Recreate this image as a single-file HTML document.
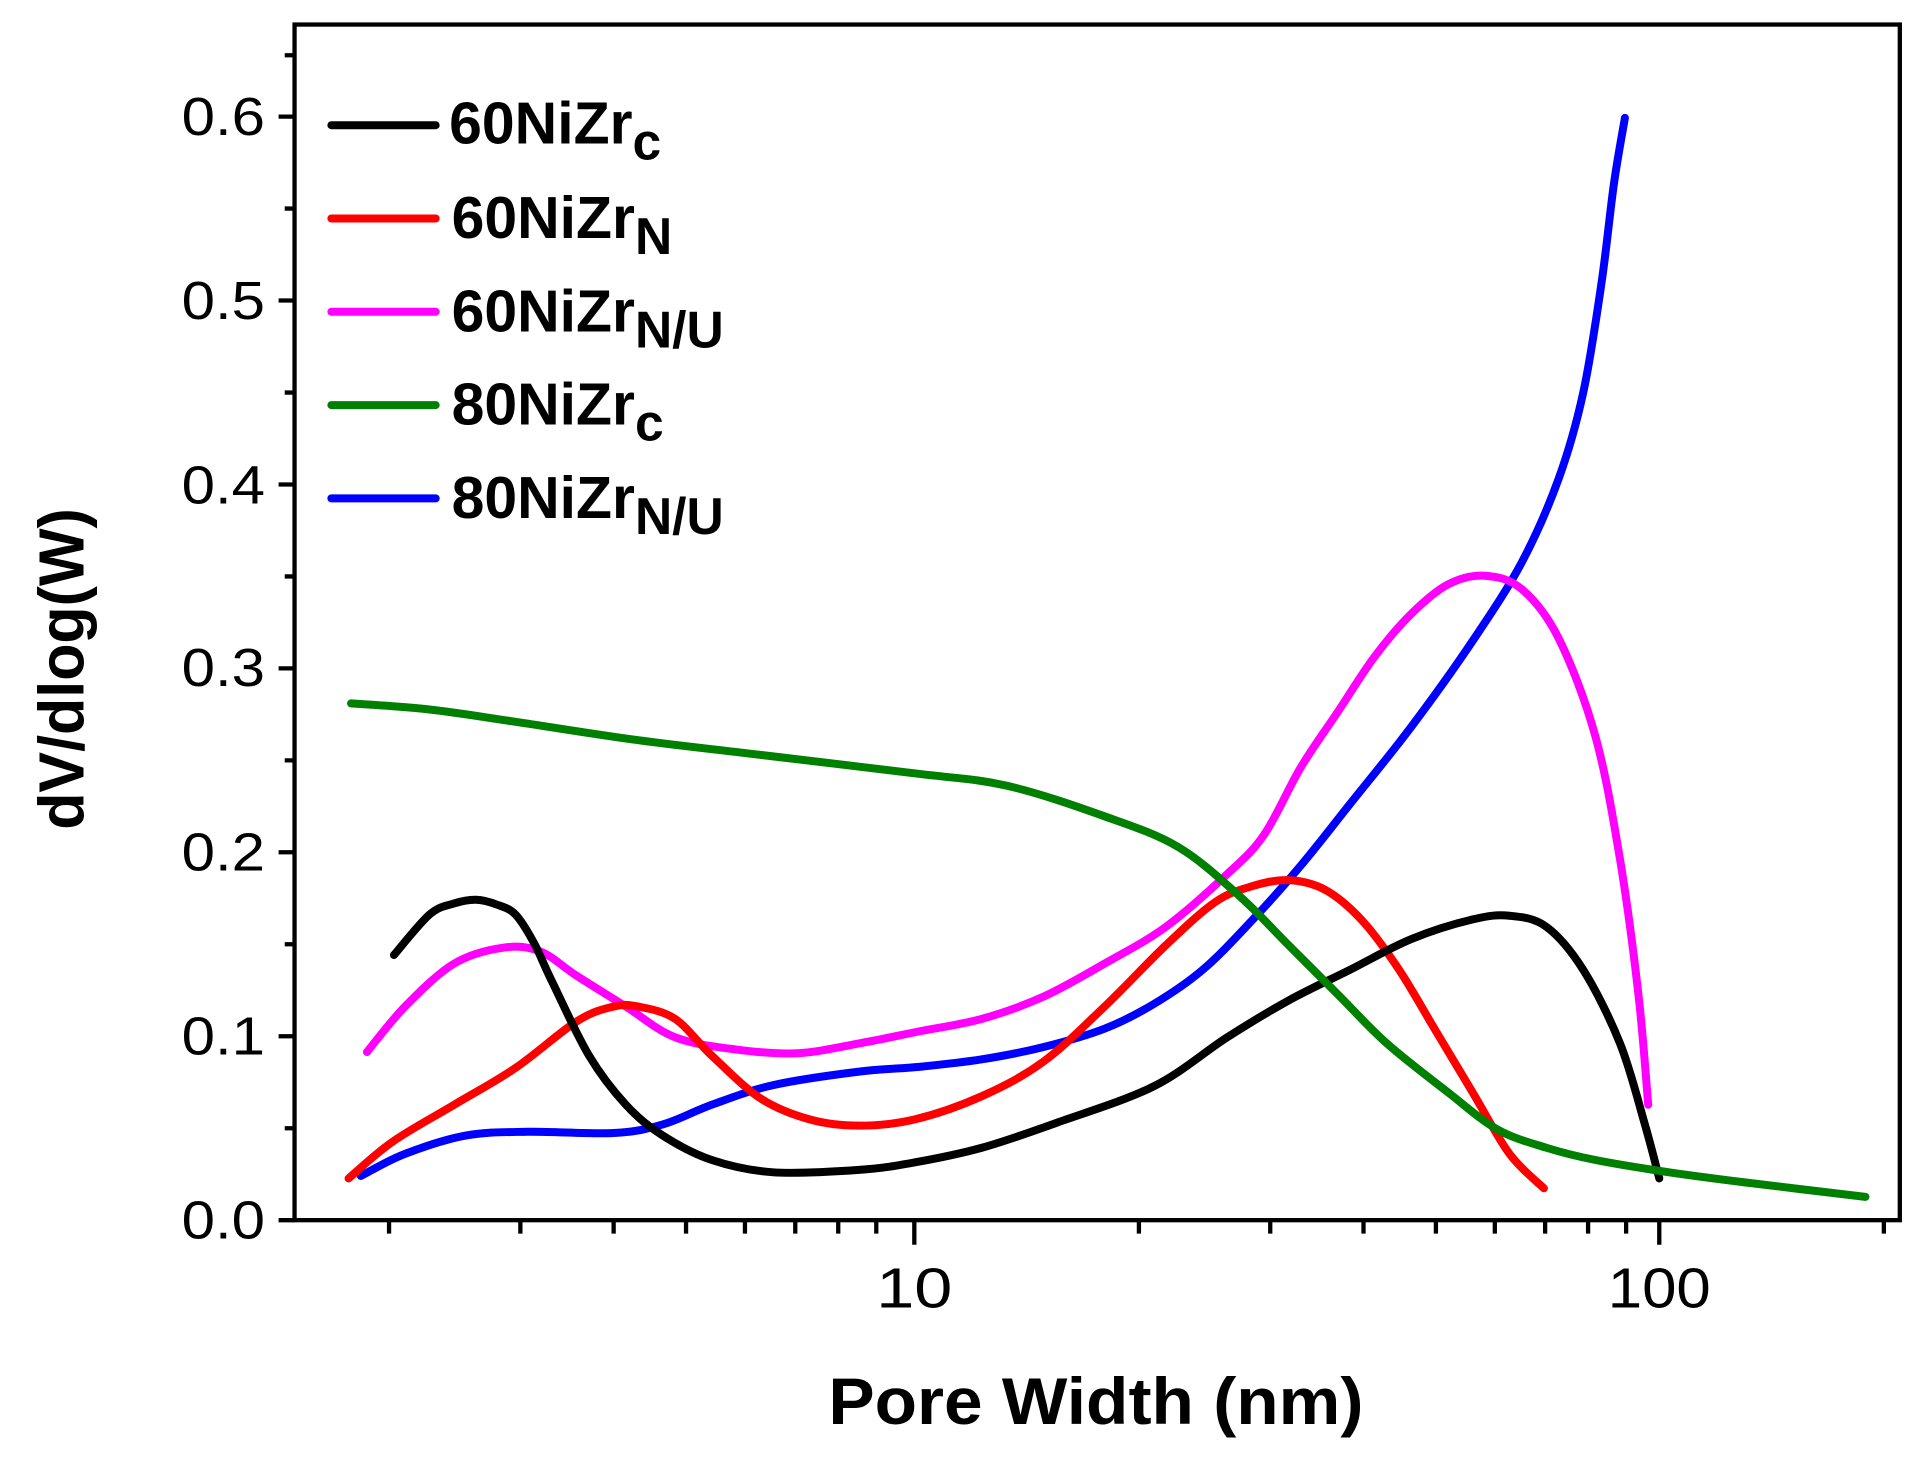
<!DOCTYPE html>
<html><head><meta charset="utf-8"><style>html,body{margin:0;padding:0;background:#fff}svg{display:block}</style></head>
<body>
<svg id="s" width="1917" height="1462" viewBox="0 0 1562 1191" preserveAspectRatio="none" xmlns="http://www.w3.org/2000/svg" font-family="Liberation Sans, Arial, sans-serif">
<rect width="1562" height="1191" fill="#fff"/>
<g stroke="#000" stroke-width="3.5" fill="none">
<rect x="240" y="20" width="1308" height="974"/>
<path d="M227 994H240M227 844.2H240M227 694.3H240M227 544.5H240M227 394.7H240M227 244.8H240M227 95H240"/>
<path d="M232 919.1H240M232 769.2H240M232 619.4H240M232 469.6H240M232 319.8H240M232 169.9H240M232 45H240"/>
<path d="M745 994V1014M1352 994V1014"/>
<path d="M317 994V1005M424 994V1005M500 994V1005M559 994V1005M607 994V1005M648 994V1005M683 994V1005M714 994V1005M928 994V1005M1035 994V1005M1111 994V1005M1170 994V1005M1218 994V1005M1259 994V1005M1294 994V1005M1325 994V1005M1535 994V1005"/>
</g>
<g font-size="44" text-anchor="end" fill="#000">
<text x="216" y="1009" textLength="68" lengthAdjust="spacingAndGlyphs">0.0</text>
<text x="216" y="859" textLength="68" lengthAdjust="spacingAndGlyphs">0.1</text>
<text x="216" y="709" textLength="68" lengthAdjust="spacingAndGlyphs">0.2</text>
<text x="216" y="559" textLength="68" lengthAdjust="spacingAndGlyphs">0.3</text>
<text x="216" y="410" textLength="68" lengthAdjust="spacingAndGlyphs">0.4</text>
<text x="216" y="260" textLength="68" lengthAdjust="spacingAndGlyphs">0.5</text>
<text x="216" y="110" textLength="68" lengthAdjust="spacingAndGlyphs">0.6</text>
</g>
<g font-size="46" text-anchor="middle">
<text x="745" y="1065" textLength="62" lengthAdjust="spacingAndGlyphs">10</text>
<text x="1352" y="1065" textLength="84" lengthAdjust="spacingAndGlyphs">100</text>
</g>
<text x="893" y="1160" font-size="54" font-weight="bold" text-anchor="middle" textLength="436" lengthAdjust="spacingAndGlyphs">Pore Width (nm)</text>
<text transform="translate(68,545) rotate(-90)" font-size="52" font-weight="bold" text-anchor="middle" textLength="262" lengthAdjust="spacingAndGlyphs">dV/dlog(W)</text>
<g id="curves" fill="none" stroke-width="6.5" stroke-linecap="round" stroke-linejoin="round">
<path stroke="#000" d="M270 102H355"/><path stroke="#f00" d="M270 178H355"/><path stroke="#f0f" d="M270 254H355"/><path stroke="#008000" d="M270 330H355"/><path stroke="#00f" d="M270 406H355"/>
</g>
<g font-size="48" font-weight="bold">
<text x="366" y="117">60NiZr<tspan font-size="42" dy="13">c</tspan></text>
<text x="368" y="194">60NiZr<tspan font-size="42" dy="13">N</tspan></text>
<text x="368" y="270">60NiZr<tspan font-size="42" dy="13">N/U</tspan></text>
<text x="368" y="346">80NiZr<tspan font-size="42" dy="13">c</tspan></text>
<text x="368" y="422">80NiZr<tspan font-size="42" dy="13">N/U</tspan></text>
</g>
</svg>
<script>
var data=[
["#008000",[286,573,350,578,420,588,520,603,620,615,745,630,820,640,900,665,960,690,1010,730,1050,770,1090,810,1130,850,1180,890,1220,920,1260,935,1300,945,1360,955,1420,963,1520,975]],
["#000",[321,778,350,745,370,736,388,733,405,737,420,745,435,768,450,800,480,860,510,900,540,925,580,945,630,955,700,953,745,947,800,935,860,915,940,885,1000,845,1050,815,1100,790,1150,765,1200,749,1230,746,1260,755,1290,790,1320,850,1340,915,1352,960]],
["#f00",[284,960,320,930,370,900,420,870,470,832,500,820,520,820,550,830,580,860,620,895,660,912,700,917,745,912,800,893,850,865,900,820,950,770,990,735,1020,722,1050,717,1080,725,1110,750,1140,790,1170,840,1200,890,1230,940,1258,968]],
["#f0f",[299,857,330,820,370,785,410,772,440,775,470,795,510,820,550,845,600,855,650,858,700,850,750,840,800,830,850,812,900,785,950,755,1000,712,1030,680,1060,625,1090,580,1120,535,1150,500,1180,476,1210,469,1240,480,1270,520,1300,600,1320,700,1335,810,1343,900]],
["#00f",[294,958,330,940,380,925,430,922,500,923,540,916,580,900,630,884,700,873,750,869,800,863,850,853,900,838,940,818,980,790,1020,750,1060,705,1100,655,1150,592,1200,522,1240,458,1270,390,1290,320,1305,230,1315,150,1324,96]]];
var g=document.getElementById("curves");
data.forEach(function(d){var a=d[1],p=[];for(var i=0;i<a.length;i+=2)p.push([a[i],a[i+1]]);
var s="M"+p[0][0]+" "+p[0][1];
for(var i=0;i<p.length-1;i++){var p0=p[i-1]||p[i],p1=p[i],p2=p[i+1],p3=p[i+2]||p2;
s+="C"+(p1[0]+(p2[0]-p0[0])/6)+" "+(p1[1]+(p2[1]-p0[1])/6)+" "+(p2[0]-(p3[0]-p1[0])/6)+" "+(p2[1]-(p3[1]-p1[1])/6)+" "+p2[0]+" "+p2[1];}
var e=document.createElementNS("http://www.w3.org/2000/svg","path");e.setAttribute("d",s);e.setAttribute("stroke",d[0]);g.insertBefore(e,g.firstChild);});
</script>
</body></html>
